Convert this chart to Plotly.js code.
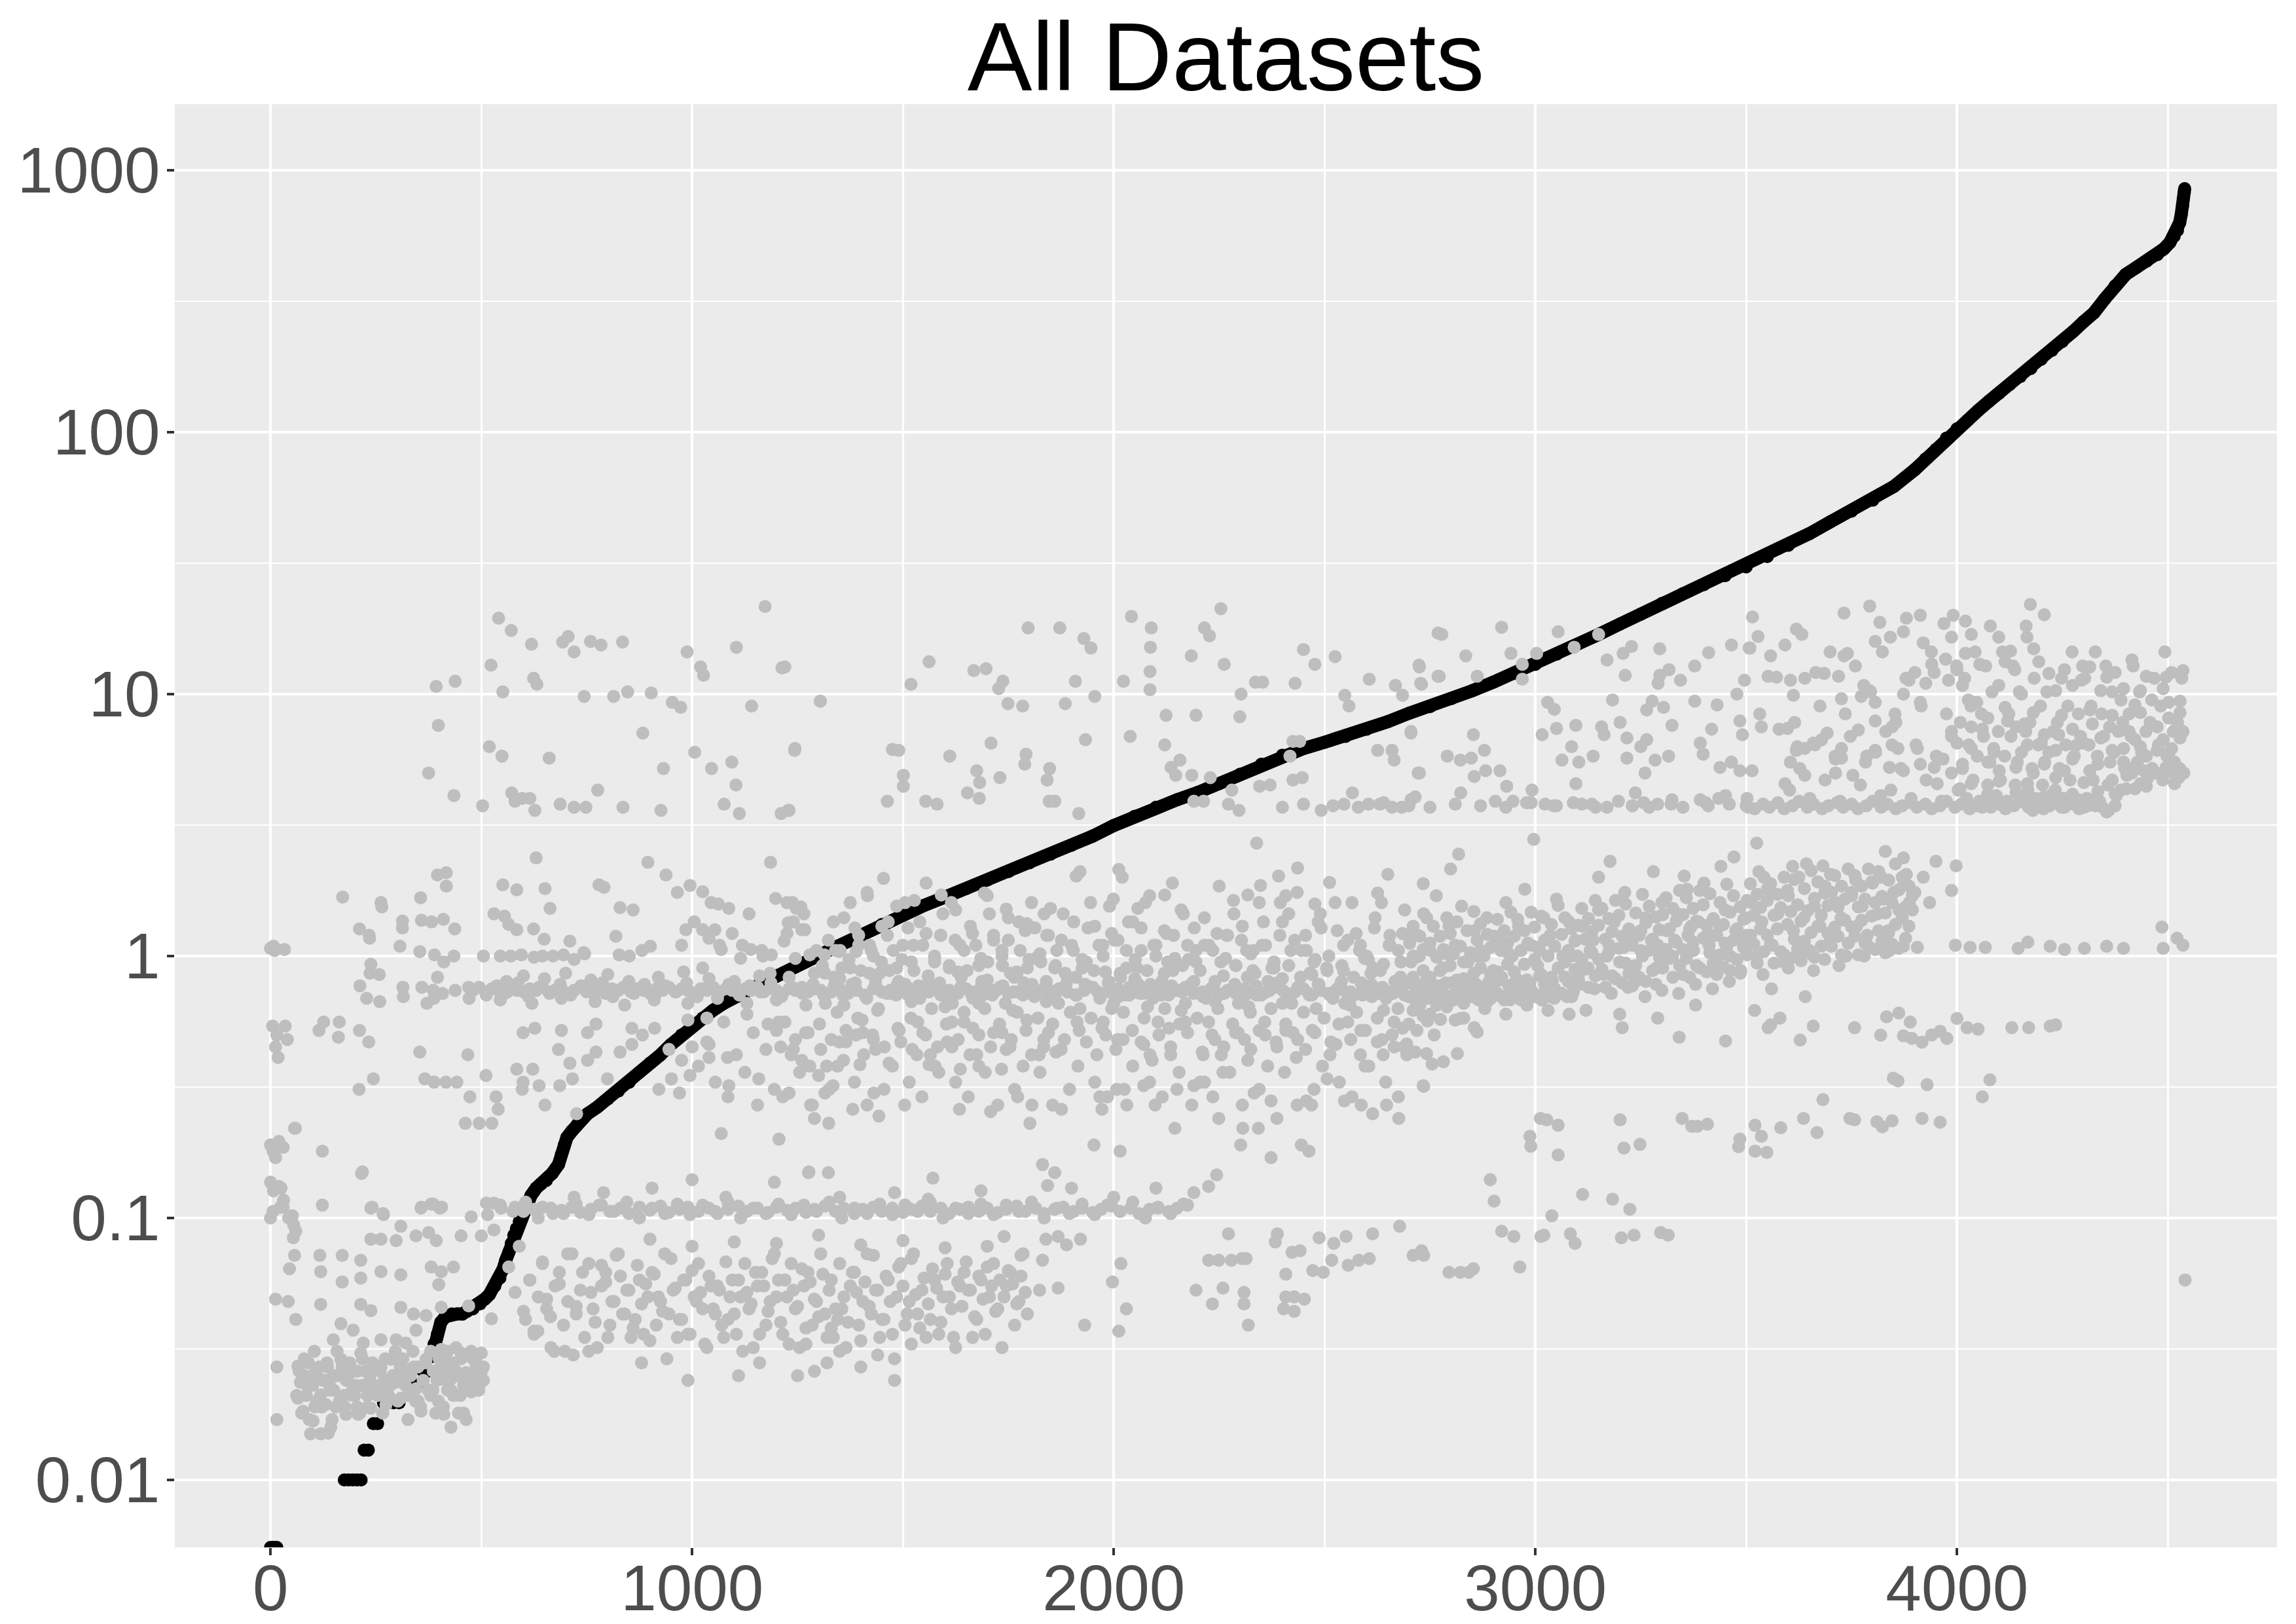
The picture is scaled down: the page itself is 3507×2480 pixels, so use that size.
<!DOCTYPE html>
<html>
<head>
<meta charset="utf-8">
<script src="https://cdn.plot.ly/plotly-3.0.1.min.js"></script>
<style>
html, body { margin: 0; padding: 0; background: #ffffff; }
#chart { width: 3507px; height: 2480px; }
</style>
</head>
<body>
<div id="chart"></div>
<script>
// ---- data ----

// sorted series (black). 0 means zero: ggplot puts log10(0) = -Inf on the lower panel edge
var blackX = [0, 5, 10, 15,
  175, 185, 195, 205, 215, 222, 232, 244, 254, 268, 280, 292, 305, 323, 335, 348, 362, 375,
  383, 388, 396, 404, 415, 430, 442, 455, 466, 480, 497, 508, 519, 532, 544, 552, 558, 565, 571, 577, 583, 590,
  598, 608, 618, 630, 642, 654, 668, 683, 690, 697, 703, 715, 728, 740, 752, 775, 800, 825, 851, 875, 900, 925,
  950, 975, 1000, 1025, 1049, 1075, 1100, 1125, 1148, 1175, 1200, 1250, 1300, 1350, 1400, 1450, 1500, 1550, 1600,
  1650, 1700, 1750, 1800, 1850, 1900, 1950, 2000, 2050, 2100, 2150, 2200, 2250, 2300, 2350, 2400, 2450, 2500,
  2550, 2600, 2650, 2700, 2750, 2800, 2850, 2900, 2950, 3000, 3050, 3100, 3150, 3200, 3250, 3300, 3350, 3400,
  3450, 3500, 3550, 3600, 3650, 3700, 3750, 3800, 3850, 3900, 3925, 3950, 3975, 4000, 4025, 4050, 4075, 4100,
  4125, 4150, 4175, 4200, 4225, 4250, 4275, 4300, 4325, 4350, 4375, 4400, 4425, 4450, 4475, 4490, 4505, 4515,
  4523, 4528, 4532, 4535, 4537, 4539, 4540];
var blackY = [0, 0, 0, 0,
  0.01, 0.01, 0.01, 0.01, 0.01, 0.013, 0.013, 0.0164, 0.0164, 0.0197, 0.0197, 0.0197, 0.0197, 0.023, 0.023, 0.023, 0.026, 0.026,
  0.0296, 0.033, 0.036, 0.04, 0.042, 0.043, 0.043, 0.043, 0.044, 0.045, 0.047, 0.049, 0.051, 0.055, 0.059, 0.064, 0.069, 0.074, 0.08, 0.086, 0.091, 0.097,
  0.104, 0.113, 0.122, 0.13, 0.135, 0.139, 0.148, 0.16, 0.175, 0.19, 0.203, 0.215, 0.228, 0.24, 0.25, 0.265, 0.285, 0.305, 0.33, 0.36, 0.39, 0.42,
  0.46, 0.5, 0.54, 0.58, 0.62, 0.66, 0.7, 0.73, 0.76, 0.8, 0.84, 0.92, 1.0, 1.1, 1.2, 1.32, 1.44, 1.56, 1.68,
  1.81, 1.95, 2.1, 2.27, 2.45, 2.65, 2.87, 3.15, 3.42, 3.7, 3.95, 4.22, 4.55, 4.95, 5.4, 5.85, 6.2, 6.55,
  6.9, 7.35, 7.85, 8.45, 8.95, 9.6, 10.3, 11.1, 12.0, 13.0, 14.2, 15.5, 16.9, 18.5, 20.2, 22.2, 24.2, 26.2,
  28.3, 30.6, 33.5, 37, 41, 45.5, 50, 55, 62, 72, 79, 86, 95, 103, 111, 121, 131, 141,
  152, 163, 175, 190, 205, 222, 242, 264, 286, 322, 362, 400, 425, 450, 476, 500, 530, 560,
  590, 630, 680, 730, 780, 820, 851];

// scattered series (grey), [x, value] per dot, grouped by area of the plot
var grayLeft = [[0,1.07],[10,1.05],[33,1.06],[7,1.09],[5,0.54],[15,0.5],[35,0.54],[40,0.48],[18,0.41],[12,0.45],
  [0,0.19],[30,0.186],[6,0.18],[12,0.17],[57,0.22],[20,0.196],[59,0.22],[0,0.137],[20,0.132],[7,0.127],[31,0.117],
  [24,0.11],[6,0.106],[0,0.1],[43,0.1],[55,0.094],[60,0.089],[54,0.084],[57,0.072],[45,0.064],[12,0.049],[42,0.048],
  [60,0.041],[25,0.13],[30,0.11],[52,0.102],[15,0.027],[15,0.017],[123,0.18],[115,0.52],[126,0.56],[163,0.56],
  [161,0.49],[123,0.112],[218,0.15],[216,0.148],[171,1.68],[238,0.109],[268,0.103],[357,0.109],[381,0.113],[402,0.109],
  [476,0.101],[512,0.114],[530,0.114],[547,0.109],[241,0.11],[267,0.104],[358,0.11],[386,0.113],[406,0.11],
  [117,0.072],[170,0.072],[214,0.069],[238,0.083],[262,0.083],[298,0.082],[309,0.093],[345,0.0855],[375,0.088],
  [393,0.082],[452,0.0855],[500,0.0855],[530,0.09],[119,0.0624],[170,0.057],[214,0.059],[262,0.0624],[309,0.0607],
  [381,0.065],[405,0.0624],[399,0.0557],[434,0.065],[119,0.0468],[214,0.0468],[238,0.0443],[309,0.0456],[339,0.043],
  [369,0.0424],[405,0.0456],[470,0.0462],[524,0.0412],[149,0.0343],[167,0.0395],[196,0.0373],[220,0.0333],[262,0.0343],
  [298,0.0343],[345,0.0373],[262,1.6],[264,1.54],[356,1.67],[396,2.04],[417,2.08],[417,1.85],[211,1.27],[234,1.2],
  [235,1.17],[313,1.36],[313,1.28],[358,1.37],[382,1.35],[410,1.38],[437,1.27],[307,1.09],[354,1.04],[389,1.01],
  [435,1.0],[238,0.93],[236,0.86],[258,0.85],[212,0.77],[228,0.69],[259,0.67],[314,0.76],[315,0.7],[359,0.76],
  [386,0.74],[408,0.72],[438,0.74],[371,0.66],[388,0.69],[396,0.83],[411,0.95],[470,0.76],[471,0.69],[211,0.52],
  [233,0.47],[210,0.31],[244,0.34],[354,0.43],[468,0.42],[366,0.34],[388,0.33],[416,0.33],[442,0.33],[473,0.29],
  [462,0.23],[495,0.23],[525,0.23],[511,0.35],[535,0.29],[540,0.26],[375,5.0],[393,10.7],[398,7.6],[435,4.1],
  [438,11.2],[503,3.75],[519,6.3],[523,12.9],[541,19.5],[549,5.8],[551,10.2]];

var grayCluster = [[65,0.0272],[71,0.0236],[65,0.0205],[77,0.0183],[95,0.015],[101,0.0168],[119,0.0211],[131,0.0194],
  [143,0.0159],[143,0.0243],[167,0.0289],[190,0.0257],[190,0.0211],[214,0.0305],[214,0.0229],[238,0.0257],[256,0.0217],
  [274,0.0194],[286,0.0289],[298,0.0236],[309,0.0205],[321,0.0333],[333,0.0265],[345,0.0223],[357,0.0183],[369,0.0289],
  [393,0.0257],[405,0.0315],[416,0.0289],[428,0.0243],[440,0.0211],[452,0.0305],[464,0.0257],[476,0.0217],[488,0.0272],
  [500,0.0305],[494,0.0229],[411,0.0178],[428,0.0159],[458,0.018],[238,0.0188],[208,0.0178],[179,0.0178],[137,0.0151],
  [119,0.015],[80,0.025],[85,0.021],[90,0.028],[100,0.023],[105,0.019],[110,0.026],[125,0.024],[135,0.027],[150,0.022],
  [155,0.019],[160,0.025],[175,0.021],[180,0.024],[200,0.023],[205,0.019],[225,0.026],[230,0.021],[245,0.023],[262,0.027],
  [270,0.024],[280,0.021],[315,0.025],[325,0.021],[340,0.027],[350,0.02],[385,0.022],[395,0.024],[410,0.026],[420,0.022],
  [435,0.028],[445,0.025],[450,0.021],[460,0.03],[470,0.024],[480,0.029],[485,0.022],[490,0.026],[505,0.027],[505,0.024],
  [400,0.029],[380,0.031],[440,0.032],[420,0.031],
  [62,0.021],[68,0.026],[74,0.018],[80,0.029],[86,0.023],[92,0.017],[98,0.025],[104,0.031],[110,0.02],[116,0.027],
  [122,0.019],[128,0.024],[134,0.028],[140,0.022],[146,0.017],[152,0.025],[158,0.031],[164,0.02],[170,0.027],[176,0.019],
  [182,0.024],[188,0.028],[194,0.022],[200,0.021],[206,0.026],[212,0.018],[218,0.029],[224,0.023],[230,0.019],[236,0.024],
  [242,0.028],[248,0.022],[254,0.021],[260,0.026],[266,0.018],[272,0.029],[278,0.023],[284,0.023],[290,0.025],[296,0.031],
  [302,0.02],[308,0.027],[314,0.029],[320,0.023],[326,0.017],[332,0.025],[338,0.031],[344,0.02],[350,0.027],[356,0.019],
  [362,0.024],[368,0.028],[374,0.022],[380,0.021],[386,0.026],[392,0.018],[398,0.02],[404,0.027],[410,0.019],[416,0.024],
  [422,0.028],[428,0.022],[434,0.021],[440,0.026],[446,0.018],[452,0.029],[458,0.023],[464,0.017],[470,0.025],[476,0.031],
  [482,0.024],[488,0.028],[494,0.022],[500,0.026]];

var grayMidLeft = [[571,17.5],[619,15.5],[693,15.8],[706,16.6],[720,14.5],[759,15.9],[784,15.4],[835,15.8],[988,14.5],
  [1020,12.7],[1027,11.8],[1105,15.1],[1173,21.6],[1213,12.6],[1304,9.4],[624,11.5],[632,10.9],[744,9.8],[814,9.8],
  [847,10.2],[903,10.1],[953,9.3],[973,8.9],[883,7.1],[932,5.2],[1006,6.0],[1046,5.2],[1094,5.5],[1104,4.5],[1141,9.0],
  [1244,6.2],[661,5.7],[572,4.2],[580,3.9],[597,4.0],[615,4.0],[627,3.6],[687,3.8],[720,3.7],[748,3.7],[776,4.3],
  [836,3.7],[926,3.6],[1076,3.8],[1112,3.5],[1211,3.5],[1230,3.6],
  [630,2.37],[895,2.28],[938,2.04],[1186,2.28],[551,1.87],[584,1.79],[651,1.81],[663,1.52],[779,1.87],[791,1.83],
  [965,1.75],[995,1.86],[1025,1.76],[829,1.53],[860,1.5],[1062,1.58],[1087,1.52],[1198,1.66],[1238,1.6],[1258,1.54],
  [530,1.45],[555,1.42],[565,1.32],[584,1.26],[624,1.27],[649,1.16],[710,1.14],[743,1.03],[819,1.19],[827,1.01],
  [851,1.0],[881,1.05],[901,1.09],[975,1.1],[985,1.26],[1025,1.26],[1054,1.26],[1040,1.17],[1069,1.06],[1119,1.1],
  [1139,1.06],[1168,1.0],[1188,1.01],[1218,1.14],[1228,1.34],[1247,1.52],[1267,1.26],
  [505,1.0],[545,1.0],[570,1.0],[595,1.01],[625,0.99],[645,1.0],[670,1.0],[695,1.01],[720,0.97],[745,1.02],
  [480,0.74],[495,0.76],[510,0.73],[525,0.75],[540,0.74],[555,0.72],[570,0.76],[585,0.74],[600,0.73],[615,0.75],
  [630,0.74],[645,0.76],[660,0.73],[675,0.74],[690,0.75],[705,0.72],[720,0.74],[735,0.76],[750,0.73],[765,0.75],
  [780,0.74],[795,0.72],[810,0.75],[825,0.74],[840,0.76],[855,0.73],[870,0.75],[885,0.74],[900,0.72],[915,0.75],
  [930,0.74],[945,0.76],[960,0.73],[975,0.75],[990,0.74],[1005,0.72],[1020,0.75],[1035,0.74],[1050,0.76],[1065,0.73],
  [1080,0.75],[1095,0.74],[1110,0.72],[1125,0.75],[1140,0.74],[1155,0.76],[1170,0.73],[1185,0.75],[1200,0.74],
  [1215,0.72],[1230,0.75],[1245,0.74],[1260,0.76],[1275,0.73],[1290,0.75],[1305,0.74],[1320,0.72],
  [560,0.8],[600,0.84],[650,0.82],[700,0.86],[760,0.81],[800,0.85],[850,0.8],[920,0.83],[980,0.87],[1040,0.82],
  [1100,0.8],[1160,0.84],[1230,0.83],[1290,0.86],[545,0.68],[620,0.66],[690,0.69],[770,0.67],[840,0.65],[910,0.68],
  [990,0.66],[1060,0.69],[1130,0.66],[1200,0.68],[1270,0.65],
  [599,0.51],[627,0.53],[690,0.52],[752,0.51],[772,0.55],[683,0.44],[710,0.39],[752,0.4],[772,0.43],[799,0.34],
  [829,0.43],[857,0.53],[882,0.5],[911,0.53],[857,0.46],[921,0.31],[951,0.34],[970,0.3],[995,0.35],[1040,0.41],
  [1084,0.41],[1087,0.32],[1158,0.34],[584,0.37],[622,0.37],[599,0.33],[597,0.31],[637,0.32],[651,0.27],[686,0.32],
  [716,0.34],[726,0.25],[1069,0.21],[945,0.44],[975,0.4],[1000,0.45],[1040,0.46],[990,0.57],[1035,0.58],[1130,0.6],
  [1180,0.55],[1210,0.45],[1245,0.48],[1200,0.52],[1260,0.4],[1300,0.35],[1315,0.3],[1230,0.3],[1290,0.24],[1206,0.2]];

var grayLine01 = [[580,0.11],[600,0.106],[625,0.108],[645,0.11],[670,0.104],[690,0.107],[715,0.11],[735,0.105],
  [760,0.108],[780,0.112],[805,0.106],[830,0.109],[850,0.104],[875,0.11],[900,0.107],[925,0.111],[945,0.105],[970,0.108],
  [990,0.11],[1015,0.106],[1040,0.109],[1060,0.104],[1085,0.108],[1110,0.111],[1130,0.106],[1155,0.109],[1180,0.105],
  [1200,0.11],[1225,0.107],[1245,0.109],[1270,0.105],[1290,0.108],[1315,0.111],[1340,0.106],[1360,0.109],[1385,0.104],
  [1405,0.108],[1430,0.11],[1450,0.106],[1475,0.109],[1500,0.105],[1520,0.108],[1545,0.111],[1565,0.106],[1590,0.109],
  [1610,0.104],[1635,0.108],[1655,0.11],[1680,0.106],[1700,0.109],[1725,0.105],[1745,0.108],[1770,0.111],[1790,0.106],
  [1815,0.109],[1835,0.104],[1860,0.108],[1880,0.11],[1905,0.106],[1925,0.109],[1950,0.105],[1970,0.108],[1995,0.111],
  [2015,0.106],[2040,0.109],[2060,0.104],[2085,0.108],[2105,0.11],[2130,0.106],[2150,0.109],[2175,0.112],
  [720,0.12],[790,0.125],[905,0.13],[1000,0.14],[1080,0.12],[1195,0.137],[1277,0.15],[1350,0.12],[1480,0.125],
  [1560,0.118],[1276,0.149],[1323,0.149],[1571,0.142],[1685,0.127],[1831,0.16],[1860,0.149],[1843,0.133],[1900,0.13],
  [2000,0.12],[2100,0.13],[2190,0.125],[2244,0.146],[2225,0.132],
  [515,0.103],[545,0.112],[575,0.106],[605,0.115],[635,0.1],[665,0.109],[695,0.104],[725,0.113],[755,0.103],[785,0.112],
  [815,0.106],[845,0.115],[875,0.1],[905,0.109],[935,0.104],[965,0.113],[995,0.103],[1025,0.112],[1055,0.106],
  [1085,0.115],[1115,0.1],[1145,0.109],[1175,0.104],[1205,0.113],[1235,0.103],[1265,0.112],[1295,0.106],[1325,0.115],
  [1355,0.1],[1385,0.109],[1415,0.104],[1445,0.113],[1475,0.103],[1505,0.112],[1535,0.106],[1565,0.115],[1595,0.1],
  [1625,0.109],[1655,0.104],[1685,0.113],[1715,0.103],[1745,0.112],[1775,0.106],[1805,0.115],[1835,0.1],[1865,0.109],
  [1895,0.104],[1925,0.113],[1955,0.103],[1985,0.112],[2015,0.106],[2045,0.115],[2075,0.1],[2105,0.109],[2135,0.104],
  [2165,0.113]];

var grayLowCloud = [[565,0.065],[580,0.052],[590,0.078],[600,0.044],[615,0.058],[625,0.037],[634,0.037],[645,0.068],
  [655,0.049],[664,0.042],[673,0.031],[685,0.056],[698,0.031],[705,0.073],[718,0.03],[725,0.046],[740,0.062],[755,0.031],
  [760,0.052],[770,0.04],[785,0.066],[795,0.057],[800,0.035],[810,0.048],[820,0.072],[830,0.06],[840,0.043],[850,0.053],
  [860,0.038],[870,0.066],[880,0.047],[890,0.056],[900,0.034],[910,0.061],[920,0.05],[930,0.044],[940,0.029],[950,0.07],
  [960,0.054],[970,0.041],[980,0.058],[990,0.036],[1000,0.063],[1010,0.048],[1020,0.052],[1030,0.033],[1040,0.06],
  [1050,0.045],[1060,0.055],[1070,0.039],[1080,0.068],[1090,0.05],[1100,0.043],[1110,0.058],[1120,0.031],[1130,0.052],
  [1140,0.047],[1150,0.062],[1160,0.036],[1170,0.055],[1180,0.044],[1190,0.07],[1200,0.05],[1210,0.04],[1220,0.058],
  [1230,0.033],[1240,0.053],[1250,0.046],[1260,0.064],[1270,0.038],[1280,0.057],[1290,0.049],[1300,0.042],[1310,0.061],
  [1320,0.035],[1330,0.058],[1340,0.045],[1350,0.067],[1360,0.05],[1370,0.04],[1380,0.062],[1390,0.052],[1400,0.034],
  [1410,0.057],[1420,0.046],[1430,0.072],[1440,0.053],[1450,0.041],[1460,0.06],[1470,0.048],[1480,0.029],[1490,0.065],
  [1500,0.055],[1510,0.043],[1520,0.07],[1530,0.051],[1540,0.038],[1550,0.059],[1560,0.047],[1570,0.064],[1580,0.054],
  [1590,0.04],[1600,0.061],[1610,0.05],[1620,0.035],[1630,0.057],[1640,0.046],[1650,0.068],[1660,0.053],[1670,0.042],
  [1680,0.06],[1690,0.049],[1700,0.065],[1710,0.055],[1720,0.044],[1730,0.058],[1740,0.05],[1750,0.063],[1760,0.056],
  [1770,0.047],[1780,0.06],[1790,0.052],[1290,0.026],[1320,0.028],[1250,0.025],[1400,0.027],[1480,0.024],[1350,0.031],
  [1440,0.03],[1270,0.033],[1520,0.033],[1330,0.038],[990,0.024],[1110,0.025],[880,0.028],[1160,0.028],[900,0.083],
  [1000,0.078],[1100,0.081],[1200,0.08],[1300,0.086],[1400,0.079],[1500,0.082],[1600,0.077],[1700,0.078],[1780,0.072],
  [1740,0.085],
  [605,0.041],[615,0.058],[625,0.036],[635,0.05],[645,0.067],[655,0.045],[665,0.032],[675,0.055],[685,0.062],[695,0.039],
  [705,0.048],[715,0.073],[725,0.043],[735,0.053],[745,0.035],[755,0.067],[765,0.045],[775,0.032],[785,0.055],[795,0.062],
  [805,0.039],[815,0.048],[825,0.073],[835,0.043],[845,0.053],[855,0.035],[865,0.041],[875,0.058],[885,0.036],[895,0.05],
  [905,0.062],[915,0.039],[925,0.048],[935,0.073],[945,0.043],[955,0.053],[965,0.035],[975,0.041],[985,0.058],[995,0.036],
  [1005,0.05],[1015,0.067],[1025,0.045],[1035,0.032],[1045,0.055],[1055,0.043],[1065,0.053],[1075,0.035],[1085,0.041],
  [1095,0.058],[1105,0.036],[1115,0.05],[1125,0.067],[1135,0.045],[1145,0.032],[1155,0.055],[1165,0.062],[1175,0.039],
  [1185,0.048],[1195,0.073],[1205,0.058],[1215,0.036],[1225,0.05],[1235,0.067],[1245,0.045],[1255,0.032],[1265,0.055],
  [1275,0.062],[1285,0.039],[1295,0.048],[1305,0.073],[1315,0.043],[1325,0.053],[1335,0.035],[1345,0.041],[1355,0.045],
  [1365,0.032],[1375,0.055],[1385,0.062],[1395,0.039],[1405,0.048],[1415,0.073],[1425,0.043],[1435,0.053],[1445,0.035],
  [1455,0.041],[1465,0.058],[1475,0.036],[1485,0.05],[1495,0.067],[1505,0.039],[1515,0.048],[1525,0.073],[1535,0.043],
  [1545,0.053],[1555,0.035],[1565,0.041],[1575,0.058],[1585,0.036],[1595,0.05],[1605,0.067],[1615,0.045],[1625,0.032],
  [1635,0.055],[1645,0.062],[1655,0.053],[1665,0.035],[1675,0.041],[1685,0.058],[1695,0.036],[1705,0.05],[1715,0.067],
  [1725,0.045],[1735,0.032],[1745,0.055],[1755,0.062],[1765,0.039],[1775,0.048],[1785,0.073],[1795,0.043]];

var grayLowRight = [[1839,0.083],[1868,0.085],[1888,0.079],[1921,0.083],[1831,0.069],[1824,0.053],[1868,0.054],
  [2017,0.067],[1997,0.057],[2030,0.045],[1931,0.039],[2012,0.037],[2195,0.053],[2225,0.069],[2249,0.069],[2279,0.069],
  [2304,0.07],[2314,0.07],[2259,0.054],[2234,0.047],[2309,0.052],[2309,0.047],[2319,0.039],[2272,0.087],[2388,0.087],
  [2383,0.081],[2423,0.074],[2442,0.075],[2408,0.061],[2408,0.05],[2428,0.05],[2452,0.049],[2403,0.045],[2428,0.044],
  [2472,0.063],[2497,0.062],[2487,0.084],[2522,0.08],[2551,0.085],[2517,0.069],[2556,0.066],[2581,0.069],[2606,0.07],
  [2614,0.087],[2678,0.093],[2710,0.072],[2730,0.075],[2735,0.072],[2795,0.062],[2822,0.062],[2842,0.062],[2853,0.064],
  [2920,0.089],[2949,0.085],[2963,0.065],[3013,0.085],[3020,0.086],[3039,0.102],[3083,0.087],[3094,0.08],[3204,0.084],
  [3234,0.086],[3297,0.088],[3315,0.086],[2893,0.14],[2902,0.116],[2987,0.205],[2989,0.188],[3012,0.24],[3027,0.237],
  [3054,0.226],[3054,0.174],[3112,0.123],[3183,0.118],[3224,0.108],[3201,0.237],[3210,0.185],[3248,0.191],[3348,0.24],
  [3371,0.224],[3384,0.224],[3408,0.228],[3485,0.2],[3482,0.187],[3521,0.226],[3521,0.18],[3536,0.205],[3549,0.178],
  [3582,0.221],[3636,0.24],[3668,0.212],[3682,0.283],[3746,0.24],[3757,0.237],[3810,0.233],[3823,0.223],[3846,0.235],
  [3917,0.24],[3960,0.232],[3849,0.342],[3860,0.334],[3929,0.323],[4060,0.29],[4078,0.337],[4541,0.058],
  [3206,0.533],[3341,0.49],[3451,0.474],[3552,0.533],[3558,0.546],[3628,0.478],[3659,0.54],[3757,0.533],[3819,0.499],
  [3833,0.586],[3862,0.606],[3873,0.496],[3893,0.485],[3889,0.56],[3917,0.469],[3940,0.5],[3960,0.516],[3976,0.485],
  [4000,0.578],[4024,0.533],[4050,0.526],[4130,0.533],[4170,0.533],[4221,0.54],[4234,0.546],[2695,0.462],[2735,0.318],
  [2742,0.424],[2755,0.387],[2782,0.395],[2815,0.424],[2719,0.52],[2855,0.533],[2862,0.513],[2822,0.578],[2775,0.573],
  [2744,0.565]];

var grayMidRight = [[1225,1.6],[1240,1.35],[1260,1.26],[1279,1.01],[1314,1.01],[1349,1.04],[1389,1.04],
  [1330,0.73],[1350,0.75],[1370,0.72],[1390,0.74],[1410,0.71],[1430,0.75],[1450,0.73],[1470,0.72],[1490,0.74],
  [1510,0.76],[1530,0.72],[1550,0.73],[1570,0.75],[1590,0.71],[1610,0.74],[1630,0.72],[1650,0.75],[1670,0.73],
  [1690,0.71],[1710,0.74],[1730,0.76],[1750,0.72],[1770,0.73],[1790,0.75],[1810,0.71],[1830,0.74],[1850,0.72],
  [1870,0.75],[1890,0.73],[1910,0.71],[1930,0.74],[1950,0.76],[1970,0.72],[1990,0.73],[2010,0.75],[2030,0.71],
  [2050,0.74],[2070,0.72],[2090,0.75],[2110,0.73],[2130,0.71],[2150,0.74],[2170,0.76],[2190,0.72],[2210,0.73],
  [2230,0.75],[2250,0.71],[2270,0.74],[2290,0.72],[2310,0.75],[2330,0.73],[2350,0.71],[2370,0.74],[2390,0.76],
  [2410,0.72],[2430,0.73],[2450,0.75],[2470,0.71],[2490,0.74],[2510,0.72],[2530,0.75],[2550,0.73],[2570,0.71],
  [2590,0.74],[2610,0.76],[2630,0.72],[2650,0.73],[2670,0.75],[2690,0.71],
  [1340,1.05],[1360,1.4],[1375,0.9],[1395,1.2],[1415,1.75],[1430,1.0],[1450,1.3],[1468,0.88],[1485,1.55],[1500,1.1],
  [1520,0.95],[1540,1.35],[1555,1.9],[1575,1.0],[1590,1.2],[1610,0.9],[1625,1.5],[1645,1.05],[1660,1.3],[1680,0.92],
  [1700,1.7],[1715,1.15],[1735,1.0],[1750,1.4],[1770,0.87],[1790,1.25],[1805,1.6],[1825,1.02],[1845,1.2],[1860,0.9],
  [1880,1.45],[1900,1.1],[1920,2.1],[1935,0.95],[1955,1.3],[1975,1.0],[1990,1.55],[2010,1.15],[2030,0.9],[2045,1.35],
  [2065,1.05],[2085,1.7],[2100,1.0],[2120,1.25],[2140,0.88],[2160,1.5],[2175,1.1],[2195,0.95],[2215,1.4],[2235,1.05],
  [2250,1.85],[2270,1.2],[2290,0.92],[2305,1.3],[2325,1.02],[2345,1.6],[2360,1.1],[2380,0.9],[2400,1.35],[2420,1.05],
  [2435,1.75],[2455,1.2],[2475,0.95],[2490,1.45],[2510,1.0],[2530,1.25],[2545,0.88],[2565,1.6],[2585,1.1],[2600,1.0],
  [2620,1.4],[2640,0.93],[2655,1.2],[2675,1.05],[2690,1.5],[2710,1.0],
  [1454,1.98],[1416,1.7],[1527,1.63],[1591,1.71],[1693,1.74],[1745,1.51],[1794,1.33],[1850,1.52],[1911,2.02],
  [2012,2.14],[2020,2.0],[1999,1.65],[2057,1.52],[2139,1.9],[2121,1.71],[2339,2.7],[2391,2.02],[2436,2.17],[2348,1.86],
  [2512,1.91],[2650,2.05],[2734,1.89],[2408,1.7],[2284,1.63],[2318,1.71],[2477,1.58],[2626,1.74],
  [1220,0.56],[1240,0.44],[1279,0.38],[1324,0.23],[1281,0.27],[1381,0.26],[1431,0.3],[1443,0.245],[1504,0.27],
  [1334,0.32],[1359,0.4],[1403,0.57],[1430,0.48],[1522,0.44],[1562,0.385],[1636,0.37],[1680,0.38],[1634,0.26],
  [1708,0.255],[1772,0.29],[1801,0.23],[1806,0.27],[1876,0.26],[1953,0.19],[2015,0.18],[1967,0.29],[2007,0.31],
  [1972,0.26],[2031,0.27],[2098,0.27],[2145,0.22],[2150,0.31],[2190,0.32],[2249,0.24],[2306,0.22],[2343,0.22],
  [2301,0.19],[2373,0.17],[2445,0.19],[2463,0.18],[2387,0.24],[2457,0.28],[2469,0.27],[2547,0.28],[2587,0.27],
  [2614,0.25],[2647,0.27],[2676,0.24],[2734,0.32],[2506,0.34],[2433,0.41],[2333,0.3],[2373,0.28],[2259,0.36],
  [2215,0.33],[2091,0.4],[2071,0.32],[1863,0.43],[1823,0.42],[1734,0.37],[1754,0.45],[1616,0.45],[1576,0.38],
  [1467,0.39],[1398,0.385],[1319,0.38],
  [1269,0.51],[1349,0.47],[1389,0.5],[1488,0.53],[1547,0.51],[1616,0.56],[1666,0.53],[1735,0.51],[1794,0.57],
  [1834,0.48],[1913,0.56],[1972,0.53],[2022,0.48],[2071,0.46],[2131,0.53],[2170,0.56],[2240,0.48],[2289,0.51],
  [2358,0.56],[2408,0.52],[2477,0.51],[2527,0.46],[2586,0.52],[2636,0.48],[2685,0.53],[2734,0.59],[2210,0.43],
  [2318,0.4],[2596,0.38],[2665,0.45],[2715,0.43],
  [1350,0.82],[1420,0.86],[1490,0.8],[1560,0.84],[1630,0.87],[1700,0.81],[1770,0.85],[1840,0.8],[1910,0.83],
  [1980,0.87],[2050,0.82],[2120,0.86],[2190,0.8],[2260,0.84],[2330,0.88],[2400,0.82],[2470,0.85],[2540,0.8],
  [2610,0.86],[2680,0.83],[1360,0.65],[1440,0.62],[1520,0.67],[1600,0.64],[1680,0.66],[1760,0.62],[1840,0.67],
  [1920,0.63],[2000,0.66],[2080,0.64],[2160,0.62],[2240,0.67],[2320,0.64],[2400,0.66],[2480,0.63],[2560,0.65],
  [2640,0.62],
  [2700,0.7],[2715,0.68],[2730,0.71],[2745,0.69],[2760,0.72],[2775,0.7],[2790,0.68],[2805,0.71],[2820,0.69],
  [2835,0.72],[2850,0.7],[2865,0.68],[2880,0.71],[2895,0.69],[2910,0.72],[2925,0.7],[2940,0.68],[2955,0.71],
  [2970,0.69],[2985,0.72],[3000,0.7],[3015,0.68],[3030,0.71],[3045,0.69],[3060,0.72],[3075,0.7],[3090,0.73],
  [2710,0.78],[2740,0.8],[2770,0.77],[2800,0.79],[2830,0.82],[2860,0.78],[2890,0.8],[2920,0.83],[2950,0.79],
  [2980,0.81],[3010,0.84],[3040,0.8],[3070,0.83],[3100,0.85],
  [2705,0.95],[2720,1.2],[2735,1.45],[2750,1.05],[2765,1.7],[2780,0.9],[2795,1.3],[2810,1.1],[2825,1.55],[2840,0.95],
  [2855,1.25],[2870,1.05],[2885,1.4],[2900,0.88],[2915,1.15],[2930,1.6],[2945,1.0],[2960,1.3],[2975,1.8],[2990,1.1],
  [3005,0.92],[3020,1.4],[3035,1.2],[3050,1.65],[3065,1.0],[3080,1.35],[3095,1.15],[2725,1.0],[2790,1.02],[2860,1.0],
  [2935,1.03],[3010,1.05],[3085,1.0],[2710,0.62],[2750,0.6],[2790,0.64],[2830,0.58],[2880,0.63],[2930,0.6],
  [2980,0.65],[3030,0.62],[3080,0.6],[2700,0.55],[2760,0.5],[2810,0.57],
  [3100,1.0],[3112,1.3],[3125,0.9],[3137,1.15],[3150,1.5],[3162,0.85],[3175,1.1],[3187,1.35],[3200,0.95],[3212,1.75],
  [3225,1.2],[3237,0.8],[3250,1.05],[3262,1.4],[3275,1.15],[3287,0.9],[3300,1.6],[3312,1.25],[3325,1.0],[3337,1.45],
  [3350,0.85],[3362,1.2],[3375,1.05],[3387,1.35],[3400,1.9],[3412,1.1],[3425,0.95],[3437,1.3],[3450,1.5],[3462,1.0],
  [3475,1.25],[3487,0.88],[3500,1.4],[3105,0.78],[3140,0.75],[3180,0.72],[3220,0.76],[3260,0.7],[3300,0.74],
  [3340,0.72],[3380,0.78],[3420,0.75],[3460,0.8],[3130,1.05],[3170,1.0],[3210,1.08],[3250,1.25],[3290,1.1],
  [3330,1.15],[3370,1.3],[3410,1.22],[3450,1.12],[3490,1.18],[3120,0.62],[3200,0.6],[3290,0.58],[3380,0.65],
  [3150,2.0],[3280,2.1],[3360,1.8],[3440,2.2],
  [3500,1.2],[3512,1.6],[3525,1.0],[3537,1.35],[3550,1.8],[3562,1.1],[3575,1.45],[3587,0.95],[3600,1.7],[3612,1.25],
  [3625,2.0],[3637,1.4],[3650,1.05],[3662,1.55],[3675,1.3],[3687,1.85],[3700,1.15],[3712,1.6],[3725,1.4],[3737,1.0],
  [3750,1.7],[3762,1.3],[3775,1.55],[3787,1.2],[3800,1.9],[3812,1.45],[3825,1.65],[3837,1.25],[3850,1.75],[3862,1.5],
  [3875,1.9],[3887,1.6],[3900,1.75],[3540,0.85],[3600,0.9],[3660,0.88],[3720,0.92],[3780,1.0],[3840,1.05],
  [3530,2.1],[3610,2.2],[3700,2.05],[3760,1.95],[3820,2.0],[3880,2.05],[3920,2.0],[3935,1.6],[3950,2.3],
  [3560,0.75],[3640,0.7],[3520,0.62],[3580,0.58],
  [3471,2.39],[3525,2.7],[2996,2.79],[2818,2.45],[2799,2.15],[3177,2.3],[3353,2.02],[3643,2.25],[3682,2.21],
  [3830,2.51],[3873,2.37],[3998,2.21],[3987,1.78],
  [3873,1.09],[3906,1.08],[3996,1.1],[4031,1.08],[4067,1.08],[4145,1.07],[4168,1.13],[4221,1.09],[4255,1.06],
  [4302,1.07],[4355,1.09],[4395,1.07],[4486,1.29],[4489,1.07],[4522,1.17],[4536,1.1]];

// the thick part of the middle band (x 1000-3900) and the 0.75 row
var grayMidDense = [
  [1005,1.35],[1015,0.38],[1025,0.9],[1035,0.47],[1045,1.6],[1055,0.33],[1065,1.1],[1075,0.56],[1085,0.29],[1095,1.22],
  [1105,0.42],[1115,0.98],[1125,0.36],[1135,1.45],[1145,0.51],[1155,0.27],[1165,1.05],[1175,0.44],[1185,0.86],[1195,0.31],
  [1205,0.56],[1215,0.29],[1225,1.22],[1235,0.42],[1245,0.98],[1255,0.36],[1265,1.45],[1275,0.51],[1285,0.27],[1295,1.05],
  [1305,0.44],[1315,0.86],[1325,0.31],[1335,1.35],[1345,0.38],[1355,0.9],[1365,0.47],[1375,1.6],[1385,0.33],[1395,1.1],
  [1405,0.51],[1415,0.27],[1425,1.05],[1435,0.44],[1445,0.86],[1455,0.31],[1465,1.35],[1475,0.38],[1485,0.9],[1495,0.47],
  [1505,1.6],[1515,0.33],[1525,1.1],[1535,0.56],[1545,0.29],[1555,1.22],[1565,0.42],[1575,0.98],[1585,0.36],[1595,1.45],
  [1605,0.47],[1615,1.6],[1625,0.33],[1635,1.1],[1645,0.56],[1655,0.29],[1665,1.22],[1675,0.42],[1685,0.98],[1695,0.36],
  [1705,1.45],[1715,0.51],[1725,0.27],[1735,1.05],[1745,0.44],[1755,0.86],[1765,0.31],[1775,1.35],[1785,0.38],[1795,0.9],
  [1805,0.42],[1815,0.98],[1825,0.36],[1835,1.45],[1845,0.51],[1855,0.27],[1865,1.05],[1875,0.44],[1885,0.86],[1895,0.31],
  [1905,1.35],[1915,0.38],[1925,0.9],[1935,0.47],[1945,1.6],[1955,0.33],[1965,1.1],[1975,0.56],[1985,0.29],[1995,1.22],
  [2005,0.44],[2015,0.86],[2025,0.31],[2035,1.35],[2045,0.38],[2055,0.9],[2065,0.47],[2075,1.6],[2085,0.33],[2095,1.1],
  [2105,0.56],[2115,0.29],[2125,1.22],[2135,0.42],[2145,0.98],[2155,0.36],[2165,1.45],[2175,0.51],[2185,0.27],[2195,1.05],
  [2205,0.33],[2215,1.1],[2225,0.56],[2235,0.29],[2245,1.22],[2255,0.42],[2265,0.98],[2275,0.36],[2285,1.45],[2295,0.51],
  [2305,0.27],[2315,1.05],[2325,0.44],[2335,0.86],[2345,0.31],[2355,1.35],[2365,0.38],[2375,0.9],[2385,0.47],[2395,1.6],
  [2405,0.36],[2415,1.45],[2425,0.51],[2435,0.27],[2445,1.05],[2455,0.44],[2465,0.86],[2475,0.31],[2485,1.35],[2495,0.38],
  [2505,0.9],[2515,0.47],[2525,1.6],[2535,0.33],[2545,1.1],[2555,0.56],[2565,0.29],[2575,1.22],[2585,0.42],[2595,0.98],
  [2605,0.38],[2615,0.9],[2625,0.47],[2635,1.6],[2645,0.33],[2655,1.1],[2665,0.56],[2675,0.29],[2685,1.22],[2695,0.42],
  [1302,0.55],[1309,0.92],[1316,0.66],[1323,1.15],[1330,0.48],[1337,0.83],[1344,0.61],[1351,1.05],[1358,0.71],[1365,0.52],
  [1372,0.97],[1379,0.78],[1386,1.28],[1393,0.58],[1400,0.88],[1407,0.42],[1414,0.69],[1421,1.1],[1428,0.5],[1435,0.8],
  [1442,0.63],[1449,0.95],[1456,0.45],[1463,1.2],[1470,0.74],
  [1477,1.05],[1484,0.71],[1491,0.52],[1498,0.97],[1505,0.78],[1512,1.28],[1519,0.58],[1526,0.88],[1533,0.42],[1540,0.69],
  [1547,1.1],[1554,0.5],[1561,0.8],[1568,0.63],[1575,0.95],[1582,0.45],[1589,1.2],[1596,0.74],[1603,0.55],[1610,0.92],
  [1617,0.66],[1624,1.15],[1631,0.48],[1638,0.83],[1645,0.61],
  [1652,0.88],[1659,0.42],[1666,0.69],[1673,1.1],[1680,0.5],[1687,0.8],[1694,0.63],[1701,0.95],[1708,0.45],[1715,1.2],
  [1722,0.74],[1729,0.55],[1736,0.92],[1743,0.66],[1750,1.15],[1757,0.48],[1764,0.83],[1771,0.61],[1778,1.05],[1785,0.71],
  [1792,0.52],[1799,0.97],[1806,0.78],[1813,1.28],[1820,0.58],
  [1827,0.95],[1834,0.45],[1841,1.2],[1848,0.74],[1855,0.55],[1862,0.92],[1869,0.66],[1876,1.15],[1883,0.48],[1890,0.83],
  [1897,0.61],[1904,1.05],[1911,0.71],[1918,0.52],[1925,0.97],[1932,0.78],[1939,1.28],[1946,0.58],[1953,0.88],[1960,0.42],
  [1967,0.69],[1974,1.1],[1981,0.5],[1988,0.8],[1995,0.63],
  [2002,1.15],[2009,0.48],[2016,0.83],[2023,0.61],[2030,1.05],[2037,0.71],[2044,0.52],[2051,0.97],[2058,0.78],[2065,1.28],
  [2072,0.58],[2079,0.88],[2086,0.42],[2093,0.69],[2100,1.1],[2107,0.5],[2114,0.8],[2121,0.63],[2128,0.95],[2135,0.45],
  [2142,1.2],[2149,0.74],[2156,0.55],[2163,0.92],[2170,0.66],
  [2177,0.97],[2184,0.78],[2191,1.28],[2198,0.58],[2205,0.88],[2212,0.42],[2219,0.69],[2226,1.1],[2233,0.5],[2240,0.8],
  [2247,0.63],[2254,0.95],[2261,0.45],[2268,1.2],[2275,0.74],[2282,0.55],[2289,0.92],[2296,0.66],[2303,1.15],[2310,0.48],
  [2317,0.83],[2324,0.61],[2331,1.05],[2338,0.71],[2345,0.52],
  [2352,1.1],[2359,0.5],[2366,0.8],[2373,0.63],[2380,0.95],[2387,0.45],[2394,1.2],[2401,0.74],[2408,0.55],[2415,0.92],
  [2422,0.66],[2429,1.15],[2436,0.48],[2443,0.83],[2450,0.61],[2457,1.05],[2464,0.71],[2471,0.52],[2478,0.97],[2485,0.78],
  [2492,1.28],[2499,0.58],[2506,0.88],[2513,0.42],[2520,0.69],
  [2527,0.74],[2534,0.55],[2541,0.92],[2548,0.66],[2555,1.15],[2562,0.48],[2569,0.83],[2576,0.61],[2583,1.05],[2590,0.71],
  [2597,0.52],[2604,0.97],[2611,0.78],[2618,1.28],[2625,0.58],[2632,0.88],[2639,0.42],[2646,0.69],[2653,1.1],[2660,0.5],
  [2667,0.8],[2674,0.63],[2681,0.95],[2688,0.45],[2695,1.2],
  [2702,0.7],[2702,1.12],[2710,0.83],[2710,1.3],[2718,0.77],[2718,0.99],[2726,0.65],[2726,1.19],[2734,0.88],[2734,1.06],
  [2742,0.72],[2742,1.4],[2750,1.12],[2750,0.83],[2758,1.3],[2758,0.77],[2766,0.99],[2766,0.65],[2774,1.19],[2774,0.88],
  [2782,1.06],[2782,0.72],[2790,1.4],[2790,0.7],[2798,0.92],[2798,1.22],[2806,0.68],[2806,1.02],[2814,0.81],[2814,1.35],
  [2822,0.74],[2822,1.09],[2830,0.95],[2830,0.66],[2838,1.25],[2838,0.79],[2846,1.03],[2846,0.71],[2854,1.48],[2854,0.86],
  [2862,0.69],[2862,1.15],[2870,0.9],[2870,1.33],[2878,0.76],[2878,1.0],[2886,0.67],[2886,1.21],[2894,0.85],[2894,1.08],
  [2902,0.74],[2902,1.19],[2910,0.87],[2910,1.38],[2918,0.81],[2918,1.05],[2926,0.68],[2926,1.25],[2934,0.93],[2934,1.12],
  [2942,0.76],[2942,1.47],[2950,1.19],[2950,0.87],[2958,1.38],[2958,0.81],[2966,1.05],[2966,0.68],[2974,1.25],[2974,0.93],
  [2982,1.12],[2982,0.76],[2990,1.47],[2990,0.74],[2998,0.97],[2998,1.29],[3006,0.71],[3006,1.08],[3014,0.85],[3014,1.42],
  [3022,0.78],[3022,1.15],[3030,1.0],[3030,0.7],[3038,1.32],[3038,0.83],[3046,1.09],[3046,0.75],[3054,1.56],[3054,0.9],
  [3062,0.72],[3062,1.21],[3070,0.95],[3070,1.4],[3078,0.8],[3078,1.05],[3086,0.7],[3086,1.27],[3094,0.89],[3094,1.14],
  [3102,0.82],[3102,1.31],[3110,0.97],[3110,1.52],[3118,0.89],[3118,1.16],[3126,0.76],[3126,1.39],[3134,1.03],[3134,1.24],
  [3142,0.84],[3142,1.63],[3150,1.31],[3150,0.97],[3158,1.52],[3158,0.89],[3166,1.16],[3166,0.76],[3174,1.39],[3174,1.03],
  [3182,1.24],[3182,0.84],[3190,1.63],[3190,0.82],[3198,1.07],[3198,1.43],[3206,0.79],[3206,1.19],[3214,0.94],[3214,1.58],
  [3222,0.86],[3222,1.27],[3230,1.1],[3230,0.77],[3238,1.46],[3238,0.92],[3246,1.2],[3246,0.83],[3254,1.72],[3254,1.0],
  [3262,0.8],[3262,1.34],[3270,1.05],[3270,1.55],[3278,0.88],[3278,1.16],[3286,0.78],[3286,1.41],[3294,0.99],[3294,1.26],
  [3302,0.9],[3302,1.44],[3310,1.06],[3310,1.67],[3318,0.98],[3318,1.27],[3326,0.83],[3326,1.52],[3334,1.13],[3334,1.36],
  [3342,0.92],[3342,1.78],[3350,1.44],[3350,1.06],[3358,1.67],[3358,0.98],[3366,1.27],[3366,0.83],[3374,1.52],[3374,1.13],
  [3382,1.36],[3382,0.92],[3390,1.78],[3390,0.9],[3398,1.17],[3398,1.57],[3406,0.87],[3406,1.31],[3414,1.03],[3414,1.73],
  [3422,0.94],[3422,1.39],[3430,1.2],[3430,0.85],[3438,1.6],[3438,1.01],[3446,1.32],[3446,0.91],[3454,1.88],[3454,1.09],
  [3462,0.88],[3462,1.47],[3470,1.15],[3470,1.7],[3478,0.97],[3478,1.27],[3486,0.86],[3486,1.54],[3494,1.08],[3494,1.38],
  [3502,1.01],[3502,1.63],[3510,1.2],[3510,1.89],[3518,1.11],[3518,1.43],[3526,0.94],[3526,1.72],[3534,1.27],[3534,1.53],
  [3542,1.04],[3542,2.0],[3550,1.63],[3550,1.2],[3558,1.89],[3558,1.11],[3566,1.43],[3566,0.94],[3574,1.72],[3574,1.27],
  [3582,1.53],[3582,1.04],[3590,2.0],[3590,1.01],[3598,1.32],[3598,1.78],[3606,0.98],[3606,1.48],[3614,1.16],[3614,1.96],
  [3622,1.06],[3622,1.57],[3630,1.36],[3630,0.96],[3638,1.81],[3638,1.14],[3646,1.49],[3646,1.03],[3654,2.12],[3654,1.23],
  [3662,0.99],[3662,1.66],[3670,1.3],[3670,1.92],[3678,1.09],[3678,1.43],[3686,0.97],[3686,1.74],[3694,1.22],[3694,1.56],
  [3702,1.09],[3702,1.75],[3710,1.29],[3710,2.03],[3718,1.19],[3718,1.54],[3726,1.01],[3726,1.85],[3734,1.37],[3734,1.65],
  [3742,1.12],[3742,2.15],[3750,1.75],[3750,1.29],[3758,2.03],[3758,1.19],[3766,1.54],[3766,1.01],[3774,1.85],[3774,1.37],
  [3782,1.65],[3782,1.12],[3790,2.15],[3790,1.09],[3798,1.42],[3798,1.92],[3806,1.06],[3806,1.6],[3814,1.25],[3814,2.1],
  [3822,1.14],[3822,1.69],[3830,1.46],[3830,1.03],[3838,1.95],[3838,1.23],[3846,1.6],[3846,1.11],[3854,2.25],[3854,1.32],
  [3862,1.07],[3862,1.79],[3870,1.4],[3870,2.0],[3878,1.17],[3878,1.54],[3886,1.3],[3886,1.85],[3894,1.5],[3894,1.7],
  [512,0.71],[537,0.77],[562,0.73],[587,0.79],[612,0.7],[637,0.76],[662,0.72],[687,0.78],[712,0.71],[737,0.77],
  [762,0.73],[787,0.79],[812,0.7],[837,0.76],[862,0.72],[887,0.78],[912,0.71],[937,0.77],[962,0.73],[987,0.79],
  [1012,0.7],[1037,0.76],[1062,0.72],[1087,0.78],[1112,0.71],[1137,0.77],[1162,0.73],[1187,0.79],[1212,0.7],[1237,0.76],
  [1262,0.72],[1287,0.78],[1312,0.71],[1337,0.77],[1362,0.73],[1387,0.79],[1412,0.7],[1437,0.76],[1462,0.72],[1487,0.78],
  [1512,0.71],[1537,0.77],[1562,0.73],[1587,0.79],[1612,0.7],[1637,0.76],[1662,0.72],[1687,0.78],[1712,0.71],[1737,0.77],
  [1762,0.73],[1787,0.79],[1812,0.7],[1837,0.76],[1862,0.72],[1887,0.78],[1912,0.71],[1937,0.77],[1962,0.73],[1987,0.79],
  [2012,0.7],[2037,0.76],[2062,0.72],[2087,0.78],[2112,0.71],[2137,0.77],[2162,0.73],[2187,0.79],[2212,0.7],[2237,0.76],
  [2262,0.72],[2287,0.78],[2312,0.71],[2337,0.77],[2362,0.73],[2387,0.79],[2412,0.7],[2437,0.76],[2462,0.72],[2487,0.78],
  [2512,0.71],[2537,0.77],[2562,0.73],[2587,0.79],[2612,0.7],[2637,0.76],[2662,0.72],[2687,0.78],[2712,0.71],[2737,0.77],
  [2762,0.73],[2787,0.79],[2812,0.7],[2837,0.76],[2862,0.72],[2887,0.78],[2912,0.71],[2937,0.77],[2962,0.73],[2987,0.79],
  [3012,0.7],[3037,0.76],[3062,0.72],[3087,0.78]];

var grayHigh = [[1797,17.9],[1872,17.9],[1929,16.3],[1946,15.0],[2042,19.8],[2089,17.9],[2087,15.1],[2215,17.9],
  [2227,16.7],[2254,21.2],[2184,14.0],[2262,13.0],[2450,14.8],[2477,13.0],[2525,13.9],[1220,12.7],[1562,13.3],
  [1668,12.3],[1697,12.5],[1519,10.9],[1304,9.4],[1243,6.1],[1228,3.6],[1475,6.15],[1490,6.1],[1501,4.9],[1501,4.45],
  [1463,3.9],[1554,3.9],[1581,3.8],[1611,5.8],[1675,5.1],[1682,4.6],[1653,4.2],[1681,4.0],[1709,6.5],[1730,4.8],
  [1727,10.5],[1737,11.2],[1749,9.2],[1784,9.0],[1792,5.9],[1789,5.4],[1848,5.2],[1842,4.7],[1847,3.9],[1860,3.9],
  [1885,9.2],[1909,11.2],[1955,9.8],[1933,6.7],[1917,3.5],[2023,11.2],[2039,6.9],[2086,12.2],[2086,10.4],[2124,8.3],
  [2121,6.4],[2157,5.6],[2136,5.25],[2147,4.9],[2185,4.9],[2195,8.3],[2229,4.8],[2190,3.9],[2213,3.9],[2280,4.3],
  [2272,3.8],[2297,3.6],[2302,10.0],[2299,8.2],[2336,11.1],[2353,11.1],[2346,4.45],[2371,4.5],[2418,5.8],[2425,6.6],
  [2441,6.6],[2425,4.7],[2447,4.8],[2430,11.0],[2492,3.6],[2546,3.8],[2566,4.2],[2548,9.9],[2558,9.0],[2606,11.4],
  [2626,6.1],[2660,6.1],[2665,5.6],[2668,10.8],[2685,9.9],[2725,12.7],[2730,10.9],[2705,7.1],[2725,5.0],[2604,3.8],
  [2631,3.8],[2660,3.7],[2683,3.7],[2705,3.95],[2715,4.05],[2769,17.1],[2769,11.7],
  [2778,16.9],[2920,18.0],[3054,17.3],[3150,16.9],[2724,12.9],[2728,11.0],[2772,11.7],[2835,14.0],[2862,11.7],
  [2942,14.3],[2969,13.0],[3003,14.3],[2969,11.4],[3092,15.1],[3170,13.5],[3208,14.3],[3228,15.2],[3213,11.8],
  [3295,14.9],[3317,12.4],[3291,11.0],[3344,11.3],[3378,12.8],[3411,14.4],[3465,15.4],[3507,15.0],[3528,16.6],
  [3515,19.7],[2705,7.2],[2853,7.0],[2879,6.1],[2791,5.8],[2822,5.6],[2848,5.7],[2722,5.0],[2823,4.2],[2855,4.85],
  [2882,5.1],[2916,5.1],[2932,4.45],[2905,3.9],[2947,3.9],[2979,3.85],[2992,4.3],[3016,7.0],[3050,7.4],[3029,9.3],
  [3045,8.75],[3096,7.6],[3096,4.55],[3086,6.3],[3063,5.6],[3103,5.5],[3137,5.8],[3157,7.5],[3163,7.0],[3201,7.8],
  [3217,6.8],[3217,5.7],[3183,9.5],[3023,3.8],[3043,3.75],[3090,3.85],[3134,3.8],[3143,3.7],[3197,3.9],[3230,3.75],
  [3270,3.7],[3322,3.8],[3237,4.2],[3260,5.0],[3264,6.7],[3250,6.3],[3284,5.6],[3316,5.8],[3277,9.4],[3304,8.9],
  [3324,7.6],[3264,8.7],[3295,11.8],[3378,9.4],[3398,5.9],[3431,9.1],[3438,5.25],[3465,5.5],[3485,5.1],[3514,5.1],
  [3418,7.35],[3391,6.5],[3485,7.9],[3532,8.4],[3536,7.5],[3491,7.0],[3478,10.0],[3496,11.3],[3502,4.0],[3505,3.7],
  [3435,4.0],[3451,4.1],[3391,3.95],[3404,3.85],[3324,3.95],[3257,3.85],
  [3619,17.7],[3632,16.9],[3732,20.4],[3793,21.7],[3817,18.8],[3806,15.9],[3842,16.5],[3823,14.5],[3873,17.3],
  [3880,19.5],[3913,20.0],[3920,15.7],[3969,18.6],[3991,20.0],[4020,19.0],[4034,16.9],[3558,14.0],[3592,15.4],
  [3509,15.0],[3552,11.7],[3572,11.6],[3605,11.3],[3612,9.9],[3665,12.1],[3685,12.0],[3719,11.7],[3732,14.0],
  [3740,14.3],[3726,9.6],[3779,10.8],[3793,10.3],[3773,9.8],[3806,9.3],[3766,7.3],[3806,7.9],[3846,7.5],[3853,8.4],
  [3873,10.0],[3886,11.3],[3900,12.1],[3913,9.3],[3926,11.0],[3940,13.0],[3946,12.1],[3973,13.6],[3980,11.3],
  [3987,16.5],[4000,12.4],[4013,10.8],[4020,14.3],[4027,9.5],[3621,6.3],[3639,6.2],[3659,6.5],[3679,6.7],[3619,6.1],
  [3726,6.2],[3712,5.65],[3753,4.9],[3712,5.0],[3639,4.9],[3605,5.5],[3592,4.55],[3578,7.35],[3598,7.4],[3692,7.1],
  [3726,5.7],[3786,5.8],[3806,6.1],[3840,5.25],[3860,6.2],[3873,5.1],[3846,6.4],[3906,6.2],[3913,5.4],[3946,5.25],
  [3967,5.65],[3987,5.0],[4013,5.4],[4034,6.2],[3987,7.2],[4000,6.5],[4034,7.5],[3953,4.55],[4007,4.35],[4034,4.55],
  [4174,22.0],[4207,20.1],[4164,18.2],[4166,16.5],[4182,14.9],[4079,18.2],[4099,16.5],[4114,13.3],[4137,12.4],
  [4218,12.0],[4315,12.7],[4375,12.1],[4415,13.5],[4449,11.7],[4496,11.6],[4536,12.3],[4509,12.1],[4099,10.8],
  [4153,10.0],[4234,10.3],[4274,10.8],[4341,10.3],[4395,10.5],[4435,10.3],[4489,10.5],[4529,9.4],[4047,9.3],
  [4114,8.9],[4181,8.5],[4248,8.3],[4315,8.7],[4368,8.3],[4435,8.5],[4502,8.1],[4529,8.5],[4060,7.35],[4140,7.5],
  [4207,7.0],[4274,7.35],[4341,6.8],[4408,7.2],[4475,7.5],[4536,7.2],[4087,6.2],[4167,6.4],[4234,6.1],[4301,6.5],
  [4368,6.1],[4435,6.3],[4489,6.7],[4529,6.8],[4073,5.5],[4140,5.25],[4207,5.4],[4274,5.65],[4334,5.4],[4395,5.5],
  [4462,5.1],[4516,5.5],[4526,4.8],[4100,4.65],[4167,4.55],[4234,4.8],[4301,4.6],[4368,4.7],[4435,4.55],[4489,4.9],
  [4073,4.15],[4140,4.2],[4207,4.05],[4274,4.15],[4334,4.25],[4401,4.35],[4328,3.75],[4355,3.55],[4301,3.7],
  [4248,3.7],[4180,3.6],[4114,3.75],[4060,3.7],[4054,13.0],[4127,14.6],[4194,13.3],[4255,12.4],[4295,11.3],
  [4355,11.6],[4389,9.5],[4422,9.1],[4462,9.5],[4502,9.3],[4073,8.1],[4120,7.9],[4160,7.7],[4200,6.5],[4241,7.0],
  [4281,6.35],[4321,7.7],[4362,7.5],[4395,6.2],[4422,6.7],[4449,5.8],[4475,6.1],[4509,6.2],[4100,5.1],[4181,5.0],
  [4255,5.1],[4315,5.1],[4415,5.0],[4496,5.25],[4093,3.95],[4160,3.85],[4227,3.85],[4288,3.95],[4375,4.15],
  [4422,4.35],[4449,4.45],[4516,4.55],
  [3500,3.75],[3520,3.65],[3540,3.8],[3555,3.7],[3575,3.85],[3590,3.65],[3610,3.75],[3625,3.9],[3645,3.7],[3660,3.8],
  [3680,3.65],[3695,3.75],[3715,3.85],[3730,3.7],[3750,3.8],[3765,3.65],[3785,3.75],[3800,3.9],[3820,3.7],[3835,3.8],
  [3855,3.65],[3870,3.75],[3890,3.85],[3905,3.7],[3925,3.8],[3940,3.65],[3960,3.75],[3975,3.9],[3995,3.7],[4010,3.8],
  [4030,3.65],[4045,3.75],[4065,3.85],[4080,3.7],[4100,3.8],[4115,3.65],[4135,3.75],[4150,3.9],[4170,3.7],[4185,3.8],
  [4205,3.65],[4220,3.75],[4240,3.85],[4255,3.7],[4275,3.8],[4290,3.65],[4310,3.75],[4325,3.9],[4345,3.7],[4360,3.6],
  [4375,3.75],[2400,3.7],[2450,3.8],[2520,3.75],[2580,3.7],[2640,3.85],[2700,3.75],[2750,3.7],[2810,3.8],[2870,3.75],
  [2930,3.7],[2990,3.85],[3050,3.75],[3110,3.8],[3170,3.7],[3230,3.75],[3290,3.8],[3350,3.7],[3410,3.75],[3460,3.8],
  [3603,4.3],[3615,7.8],[3627,5.2],[3639,11.5],[3651,4.0],[3663,6.4],[3675,9.0],[3687,4.7],[3699,14.5],[3711,5.8],
  [3723,3.9],[3735,8.4],[3747,6.9],[3759,12.8],[3771,4.5],[3783,5.5],[3795,10.2],[3807,6.0],[3819,4.1],[3831,7.2],
  [3843,4.3],[3855,7.8],[3867,5.2],[3879,11.5],[3891,4.0],[3903,6.4],[3915,9.0],[3927,4.7],[3939,14.5],[3951,5.8],
  [3963,3.9],[3975,8.4],[3987,6.9],[3999,12.8],
  [4003,4.3],[4008,7.8],[4013,5.2],[4018,11.5],[4023,4.0],[4028,6.4],[4033,9.0],[4038,4.7],[4043,14.5],[4048,5.8],
  [4053,3.9],[4058,8.4],[4063,6.9],[4068,12.8],[4073,4.5],[4078,5.5],[4083,10.2],[4088,6.0],[4093,4.1],[4098,7.2],
  [4103,4.7],[4108,14.5],[4113,5.8],[4118,3.9],[4123,8.4],[4128,6.9],[4133,12.8],[4138,4.5],[4143,5.5],[4148,10.2],
  [4153,6.0],[4158,4.1],[4163,7.2],[4168,4.3],[4173,7.8],[4178,5.2],[4183,11.5],[4188,4.0],[4193,6.4],[4198,9.0],
  [4203,4.5],[4208,5.5],[4213,10.2],[4218,6.0],[4223,4.1],[4228,7.2],[4233,4.3],[4238,7.8],[4243,5.2],[4248,11.5],
  [4253,4.0],[4258,6.4],[4263,9.0],[4268,4.7],[4273,14.5],[4278,5.8],[4283,3.9],[4288,8.4],[4293,6.9],[4298,12.8],
  [4303,11.5],[4308,4.0],[4313,6.4],[4318,9.0],[4323,4.7],[4328,14.5],[4333,5.8],[4338,3.9],[4343,8.4],[4348,6.9],
  [4353,12.8],[4358,4.5],[4363,5.5],[4368,10.2],[4373,6.0],[4378,4.1],[4383,7.2],[4388,4.3],[4393,7.8],[4398,5.2],
  [4403,4.9],[4408,8.4],[4413,6.9],[4418,12.8],[4423,5.3],[4428,5.5],[4433,10.2],[4438,6.0],[4443,5.1],[4448,7.2],
  [4453,4.8],[4458,7.8],[4463,5.2],[4468,11.5],[4473,5.0],[4478,6.4],[4483,9.0],[4488,4.7],[4493,14.5],[4498,5.8],
  [4503,6.0],[4508,5.1],[4513,7.2],[4518,4.9],[4523,7.8],[4528,5.2],[4533,11.5],[4538,5.0]];

// axis breaks
var xTicks = [0, 1000, 2000, 3000, 4000];
var xMinor = [500, 1500, 2500, 3500, 4500];
var yTicks = [0.01, 0.1, 1, 10, 100, 1000];
var yTickText = ['0.01', '0.1', '1', '10', '100', '1000'];
var yMinor = [0.0316, 0.316, 3.16, 31.6, 316];

// ---- build the figure ----
var xRange = [-227, 4759];
var yRange = [-2.2575, 3.2525];   // log10 units
var floorValue = Math.pow(10, yRange[0]);

var blackPlotY = blackY.map(function (v) { return v === 0 ? floorValue : v; });
var curveX = [], curveY = [];
for (var i = 0; i < blackX.length; i++) {
  if (blackX[i] >= 383) { curveX.push(blackX[i]); curveY.push(blackY[i]); }
}

var grayAll = [].concat(grayLeft, grayCluster, grayMidLeft, grayLine01, grayLowCloud, grayLowRight,
  grayMidRight, grayMidDense, grayHigh);
var grayX = grayAll.map(function (p) { return p[0]; });
var grayY = grayAll.map(function (p) { return p[1]; });

var dotSize = 20;

var traces = [
  { x: curveX, y: curveY, type: 'scatter', mode: 'lines', hoverinfo: 'skip',
    line: { color: '#000000', width: dotSize, shape: 'linear' } },
  { x: blackX, y: blackPlotY, type: 'scatter', mode: 'markers', hoverinfo: 'skip',
    marker: { color: '#000000', size: dotSize, line: { width: 0 } } },
  { x: grayX, y: grayY, type: 'scatter', mode: 'markers', hoverinfo: 'skip',
    marker: { color: '#BEBEBE', size: dotSize, line: { width: 0 } } }
];

var fontFamily = 'Liberation Sans, Arial, Helvetica, sans-serif';
var tickFont = { family: fontFamily, size: 98, color: '#4D4D4D' };

var layout = {
  width: 3507,
  height: 2480,
  margin: { l: 267, r: 29, t: 159, b: 117, pad: 0 },
  paper_bgcolor: '#FFFFFF',
  plot_bgcolor: '#EBEBEB',
  showlegend: false,
  font: { family: fontFamily },
  title: {
    text: 'All Datasets',
    font: { family: fontFamily, size: 148, color: '#000000' },
    xref: 'paper', x: 0.5, xanchor: 'center',
    yref: 'container', y: 0.9863, yanchor: 'top'
  },
  xaxis: {
    range: xRange,
    tickmode: 'array', tickvals: xTicks, ticktext: xTicks.map(String),
    ticks: 'outside', ticklen: 11, tickwidth: 4.3, tickcolor: '#333333',
    ticklabelstandoff: -34,
    tickfont: tickFont,
    showgrid: true, gridcolor: '#FFFFFF', gridwidth: 4.3,
    minor: { tickmode: 'array', tickvals: xMinor, showgrid: true, gridcolor: '#FFFFFF', gridwidth: 2.7, ticks: '' },
    zeroline: false, showline: false
  },
  yaxis: {
    type: 'log',
    range: yRange,
    tickmode: 'array', tickvals: yTicks, ticktext: yTickText,
    ticks: 'outside', ticklen: 11, tickwidth: 4.3, tickcolor: '#333333',
    ticklabelstandoff: -9,
    tickfont: tickFont,
    showgrid: true, gridcolor: '#FFFFFF', gridwidth: 4.3,
    minor: { tickmode: 'array', tickvals: yMinor, showgrid: true, gridcolor: '#FFFFFF', gridwidth: 2.7, ticks: '' },
    zeroline: false, showline: false
  }
};

Plotly.newPlot('chart', traces, layout, { staticPlot: true, displayModeBar: false });
</script>
</body>
</html>
